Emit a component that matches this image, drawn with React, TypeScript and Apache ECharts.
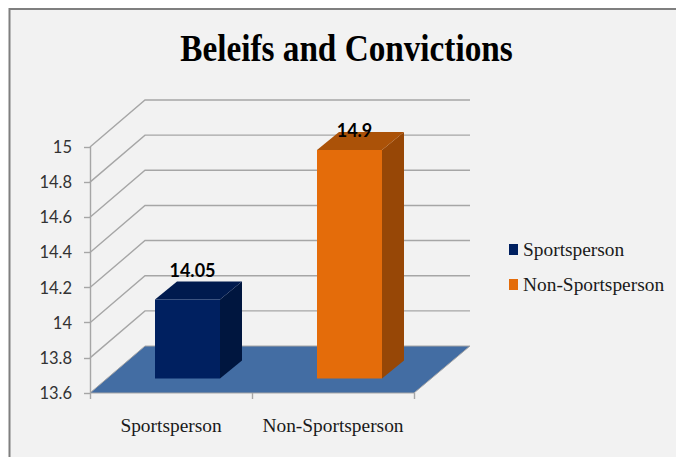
import React, { useEffect, useRef } from "react";
import * as echarts from "echarts";

const categories = ["Sportsperson", "Non-Sportsperson"];
const sportsValues = [14.05, null];
const nonSportsValues = [null, 14.9];
const yTicks = [13.6, 13.8, 14, 14.2, 14.4, 14.6, 14.8, 15];
const titleText = "Beleifs and Convictions";

const DEPTH_X = 55;
const DEPTH_Y = 47;

function wallItem(params: any, api: any) {
  const v = api.value(0);
  const start = api.coord([0, v]);
  const cs = params.coordSys;
  const left = cs.x;
  const right = cs.x + cs.width;
  const y = start[1];
  const children: any[] = [];
  if (params.dataIndex === 0) {
    children.push({
      type: "polygon",
      shape: {
        points: [
          [left, y],
          [left + DEPTH_X, y - DEPTH_Y],
          [right + DEPTH_X + 1, y - DEPTH_Y],
          [right, y],
        ],
      },
      style: { fill: "#436da3", stroke: "#a6a6a6", lineWidth: 1 },
    });
  } else {
    children.push({
      type: "polyline",
      shape: {
        points: [
          [left, y],
          [left + DEPTH_X, y - DEPTH_Y],
          [right + DEPTH_X + 1, y - DEPTH_Y],
        ],
      },
      style: { fill: "none", stroke: "#a6a6a6", lineWidth: 1.4 },
    });
  }
  return { type: "group", children };
}

function barRenderer(front: string, top: string, side: string, labelDy: number, labelDx: number) {
  return (_params: any, api: any) => {
    const cat = api.value(0);
    const val = api.value(1);
    const p = api.coord([cat, val]);
    const b = api.coord([cat, yTicks[0]]);
    const cx = p[0] + 16.5;
    const x0 = cx - 32.5;
    const x1 = cx + 32.5;
    const yTop = p[1] - 14.5;
    const yBot = b[1] - 14.5;
    const dx = 22;
    const dy = 18;
    return {
      type: "group",
      children: [
        {
          type: "polygon",
          shape: { points: [[x1, yTop], [x1 + dx, yTop - dy], [x1 + dx, yBot - dy], [x1, yBot]] },
          style: { fill: side },
        },
        {
          type: "polygon",
          shape: { points: [[x0, yTop], [x0 + dx, yTop - dy], [x1 + dx, yTop - dy], [x1, yTop]] },
          style: { fill: top },
        },
        { type: "rect", shape: { x: x0, y: yTop, width: x1 - x0, height: yBot - yTop }, style: { fill: front } },
        {
          type: "text",
          x: cx + labelDx,
          y: yTop + labelDy,
          style: {
            text: String(val),
            fill: "#000000",
            font: "bold 18px Lato, 'Liberation Sans', sans-serif",
            textAlign: "center",
            textVerticalAlign: "middle",
          },
        },
      ],
    };
  };
}

export default function App() {
  const ref = useRef<HTMLDivElement>(null);
  useEffect(() => {
    const chart = echarts.init(ref.current!, undefined, { renderer: "svg" });
    chart.setOption({
      animation: false,
      backgroundColor: "#ffffff",
      graphic: [
        {
          type: "rect",
          z: -10,
          shape: { x: 9.5, y: 9, width: 700, height: 500 },
          style: { fill: "#f2f2f2", stroke: "#7f7f7f", lineWidth: 2 },
        },
        {
          type: "text",
          z: 5,
          x: 346.5,
          y: 48,
          scaleX: 0.875,
          style: {
            text: titleText,
            fill: "#000000",
            font: "bold 38px 'Liberation Serif', serif",
            textAlign: "center",
            textVerticalAlign: "middle",
          },
        },
      ],
      grid: { left: 90, top: 147, width: 324, height: 246, containLabel: false },
      legend: {
        left: 504,
        top: 235,
        orient: "vertical",
        itemWidth: 9,
        itemHeight: 11,
        itemGap: 16,
        icon: "rect",
        data: categories,
        textStyle: { fontFamily: "'Liberation Serif', serif", fontSize: 19.4, color: "#1a1a1a" },
      },
      xAxis: {
        type: "category",
        data: categories,
        axisLine: { show: false },
        axisTick: { show: true, interval: 0, length: 6, alignWithLabel: false, lineStyle: { color: "#a6a6a6", width: 1.4 } },
        axisLabel: { interval: 0, hideOverlap: false, fontFamily: "'Liberation Serif', serif", fontSize: 19.4, color: "#1a1a1a", margin: 23 },
      },
      yAxis: {
        type: "value",
        min: 13.6,
        max: 15,
        interval: 0.2,
        splitLine: { show: false },
        axisLine: { show: true, lineStyle: { color: "#a6a6a6", width: 1.4 } },
        axisTick: { show: true, length: 6, lineStyle: { color: "#a6a6a6", width: 1.4 } },
        axisLabel: { fontFamily: "Lato, 'Liberation Sans', sans-serif", fontSize: 16.5, color: "#333333", margin: 18 },
      },
      series: [
        {
          type: "custom",
          name: "walls",
          silent: true,
          z: 1,
          coordinateSystem: "cartesian2d",
          encode: { x: 1, y: 0 },
          data: yTicks.map((v) => [v, 0]),
          renderItem: wallItem,
          clip: false,
        },
        {
          type: "custom",
          name: categories[0],
          z: 2,
          itemStyle: { color: "#002060" },
          encode: { x: 0, y: 1 },
          data: sportsValues.map((v, i) => (v === null ? null : [i, v])).filter(Boolean),
          renderItem: barRenderer("#002060", "#001a4e", "#00163f", -29.5, 5),
          clip: false,
        },
        {
          type: "custom",
          name: categories[1],
          z: 2,
          itemStyle: { color: "#e46c0a" },
          encode: { x: 0, y: 1 },
          data: nonSportsValues.map((v, i) => (v === null ? null : [i, v])).filter(Boolean),
          renderItem: barRenderer("#e46c0a", "#ab5208", "#974706", -20, 5),
          clip: false,
        },
      ],
    });
    return () => chart.dispose();
  }, []);
  return <div ref={ref} style={{ position: "fixed", left: 0, top: 0, width: 676, height: 457 }} />;
}
